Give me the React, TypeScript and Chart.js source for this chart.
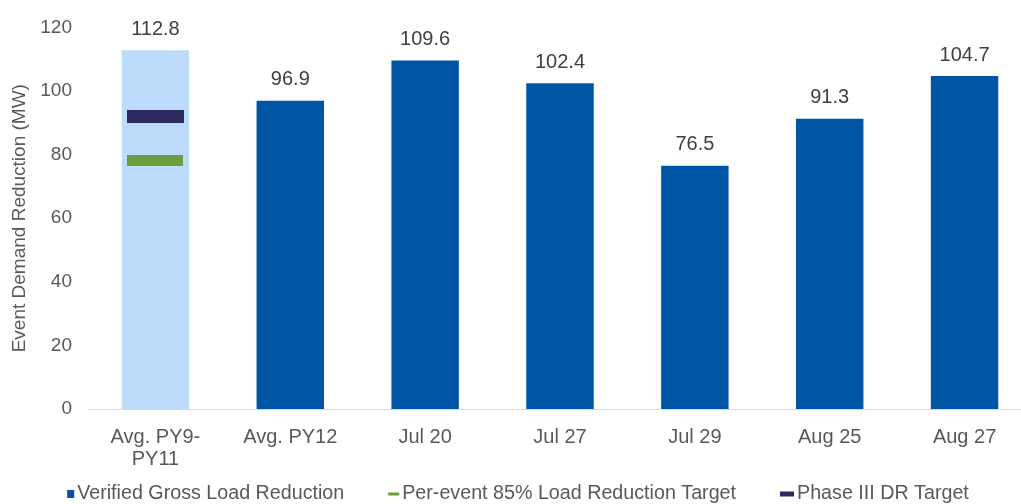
import React, { useEffect, useRef } from "react";
import { Chart, registerables } from "chart.js";

Chart.register(...registerables);

const categories: (string | string[])[] = [
  ["Avg. PY9-", "PY11"],
  "Avg. PY12",
  "Jul 20",
  "Jul 27",
  "Jul 29",
  "Aug 25",
  "Aug 27",
];
const verifiedGross = [112.8, 96.9, 109.6, 102.4, 76.5, 91.3, 104.7];
const phase3Target = [92, null, null, null, null, null, null];
const perEvent85 = [78.2, null, null, null, null, null, null];
const yTicks = [0, 20, 40, 60, 80, 100, 120];

const seriesNames = [
  "Verified Gross Load Reduction",
  "Per-event 85% Load Reduction Target",
  "Phase III DR Target",
];

const FONT = "'Liberation Sans', Arial, sans-serif";
const LIGHT = "#BDDBFB";
const DARK = "#0054A4";
const NAVY = "#2B2B62";
const GREEN = "#6B9E3F";
const TICK = "#595959";

function makeRect(w: number, h: number, color: string) {
  const c = document.createElement("canvas");
  c.width = w;
  c.height = h;
  const ctx = c.getContext("2d")!;
  ctx.fillStyle = color;
  ctx.fillRect(0, 0, w, h);
  return c;
}

export default function App() {
  const ref = useRef<HTMLCanvasElement | null>(null);

  useEffect(() => {
    if (!ref.current) return;
    const navyImg = makeRect(57, 13, NAVY);
    const greenImg = makeRect(56, 11, GREEN);

    const labelPlugin = {
      id: "barLabels",
      afterDatasetsDraw(chart: any) {
        const ctx = chart.ctx;
        const meta = chart.getDatasetMeta(0);
        ctx.save();
        ctx.font = `20px ${FONT}`;
        ctx.fillStyle = "#404040";
        ctx.textAlign = "center";
        ctx.textBaseline = "middle";
        meta.data.forEach((el: any, i: number) => {
          const v = verifiedGross[i];
          ctx.fillText(v.toFixed(1), el.x, el.y - 21);
        });
        ctx.restore();
      },
    };

    const legendPlugin = {
      id: "customLegend",
      afterDraw(chart: any) {
        const ctx = chart.ctx;
        ctx.save();
        ctx.font = `19.7px ${FONT}`;
        ctx.textBaseline = "middle";
        ctx.textAlign = "left";
        const markers = [
          { w: 7, h: 8, color: DARK },
          { w: 11, h: 3, color: GREEN },
          { w: 14, h: 5, color: NAVY },
        ];
        const gapMarkerText = 3;
        const gapItems = 44;
        const widths = seriesNames.map(
          (n, i) => markers[i].w + gapMarkerText + ctx.measureText(n).width
        );
        const total = widths.reduce((a, b) => a + b, 0) + gapItems * (widths.length - 1);
        const centerX = 518;
        const cy = 494;
        let x = centerX - total / 2;
        seriesNames.forEach((n, i) => {
          const m = markers[i];
          ctx.fillStyle = m.color;
          ctx.fillRect(x, cy - m.h / 2, m.w, m.h);
          ctx.fillStyle = TICK;
          ctx.fillText(n, x + m.w + gapMarkerText, cy);
          x += widths[i] + gapItems;
        });
        ctx.restore();
      },
    };

    const chart = new Chart(ref.current, {
      type: "bar",
      data: {
        labels: categories,
        datasets: [
          {
            type: "bar",
            label: seriesNames[0],
            data: verifiedGross,
            backgroundColor: verifiedGross.map((_, i) => (i === 0 ? LIGHT : DARK)),
            categoryPercentage: 1,
            barPercentage: 0.5,
            order: 2,
          } as any,
          {
            type: "line",
            label: seriesNames[2],
            data: phase3Target,
            showLine: false,
            pointStyle: navyImg,
            pointRadius: 5,
            order: 1,
          } as any,
          {
            type: "line",
            label: seriesNames[1],
            data: perEvent85,
            showLine: false,
            pointStyle: greenImg,
            pointRadius: 5,
            order: 1,
          } as any,
        ],
      },
      options: {
        responsive: false,
        animation: false,
        layout: { padding: { top: 25, right: 0, left: 0, bottom: 32 } },
        plugins: {
          legend: { display: false },
          tooltip: { enabled: false },
        },
        scales: {
          x: {
            grid: { display: false, drawTicks: false },
            border: { display: true, color: "#D9D9D9", width: 1 },
            afterFit: (scale: any) => {
              scale.height = 63;
            },
            ticks: {
              color: TICK,
              font: { family: FONT, size: 20, lineHeight: 1.1 },
              padding: 17,
              maxRotation: 0,
              autoSkip: false,
            },
          },
          y: {
            min: 0,
            max: 120,
            afterBuildTicks: (axis: any) => {
              axis.ticks = yTicks.map((v) => ({ value: v }));
            },
            afterFit: (scale: any) => {
              scale.width = 88;
            },
            grid: { display: false, drawTicks: false },
            border: { display: false },
            ticks: {
              color: TICK,
              font: { family: FONT, size: 19 },
              padding: 16,
            },
            title: {
              display: true,
              text: "Event Demand Reduction (MW)",
              color: TICK,
              font: { family: FONT, size: 19, lineHeight: 1.2 },
              padding: { top: 8, bottom: 9 },
            },
          },
        },
      },
      plugins: [labelPlugin, legendPlugin],
    });
    return () => chart.destroy();
  }, []);

  return (
    <div
      style={{
        position: "fixed",
        left: 0,
        top: 0,
        width: 1021,
        height: 504,
        overflow: "hidden",
        background: "#fff",
      }}
    >
      <canvas
        ref={ref}
        width={1038}
        height={504}
        style={{ width: 1038, height: 504, display: "block" }}
      />
    </div>
  );
}
